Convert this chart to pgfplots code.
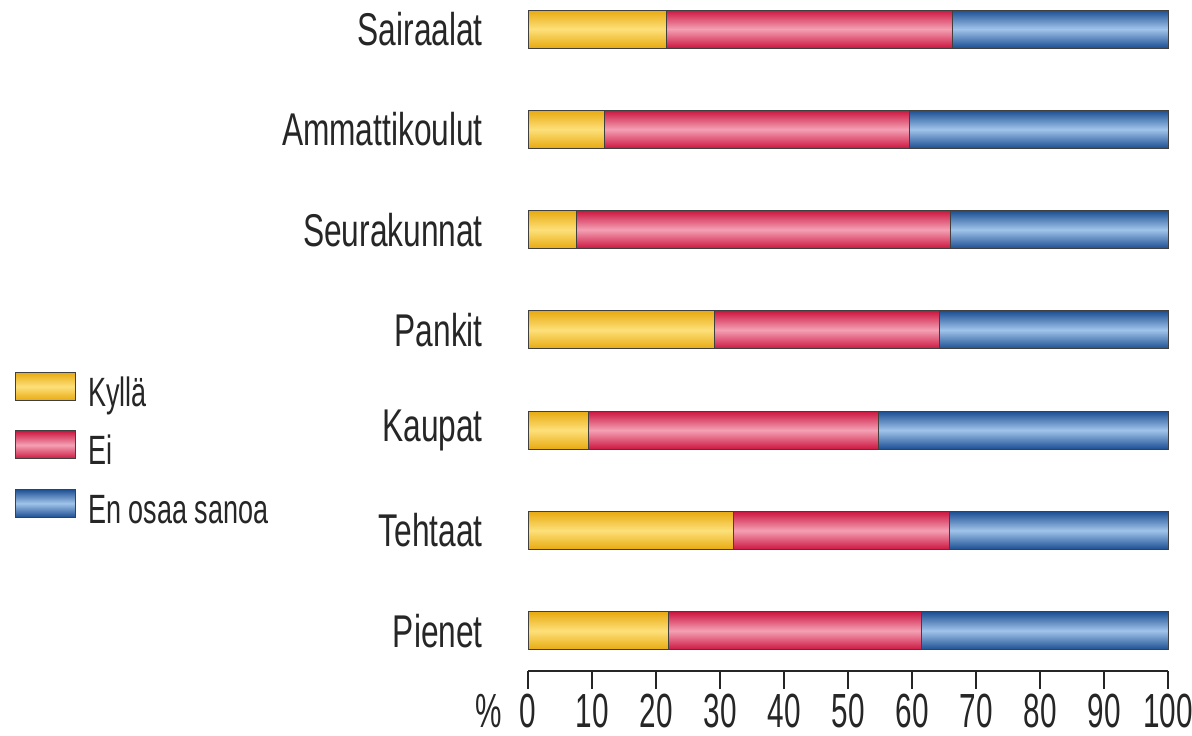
\documentclass[border=0pt]{standalone}
\usepackage{pgfplots}
\pgfplotsset{compat=1.18}
\usepackage{fontspec}
\setmainfont{Liberation Sans}[FakeStretch=0.66]
\newfontfamily\labfont{Liberation Sans}[FakeStretch=0.69]
\newfontfamily\tickfont{Liberation Sans}[FakeStretch=0.62]
\definecolor{yEdge}{HTML}{E8AA10}
\definecolor{yMid}{HTML}{FDE07A}
\definecolor{rEdge}{HTML}{CC1640}
\definecolor{rMid}{HTML}{F4A0B4}
\definecolor{bEdge}{HTML}{1C4E92}
\definecolor{bMid}{HTML}{A0C4EA}
\pgfplotsset{
  kbar/.style={draw=black!75, line width=0.5bp, top color=yEdge, bottom color=yEdge, middle color=yMid},
  ebar/.style={draw=black!75, line width=0.5bp, top color=rEdge, bottom color=rEdge, middle color=rMid},
  obar/.style={draw=black!75, line width=0.5bp, top color=bEdge, bottom color=bEdge, middle color=bMid},
}
\begin{document}
\begin{tikzpicture}
\begin{axis}[
  name=ax,
  scale only axis,
  width=320.5bp, height=336bp,
  xbar, bar shift=0pt,
  bar width=19bp,
  clip=false,
  xmin=0, xmax=100,
  ymin=-0.4, ymax=6.29,
  axis x line*=bottom,
  axis y line*=left,
  x axis line style={-, line width=0.8bp, black!85},
  y axis line style={draw=none},
  xtick={0,10,...,100},
  xtick align=outside,
  ytick align=inside,
  major tick length=9bp,
  xtick style={line width=0.8bp, black!85},
  ytick={0,...,6},
  yticklabels={Pienet,Tehtaat,Kaupat,Pankit,Seurakunnat,Ammattikoulut,Sairaalat},
  ytick style={draw=none},
  yticklabel style={inner sep=0pt, xshift=-22.5bp, font=\labfont\fontsize{23bp}{28bp}\selectfont},
  xticklabel style={inner sep=2.5bp, font=\tickfont\fontsize{24bp}{28bp}\selectfont},
  tick label style={black!85},
  /pgf/number format/assume math mode=true,
  legend cell align=left,
  legend style={at={(-0.802,0.446)}, anchor=north west, draw=none, fill=none,
    inner sep=0pt, row sep=6bp, column sep=4bp,
    font=\fontsize{20.5bp}{25bp}\selectfont,
    nodes={inner sep=2bp, text height=14bp, text depth=4bp, black!85}},
  legend image code/.code={\path[#1] (0bp,-2bp) rectangle (30bp,12bp);},
]
\addlegendimage{kbar}\addlegendentry{Kyllä}
\addlegendimage{ebar}\addlegendentry{Ei}
\addlegendimage{obar}\addlegendentry{En osaa sanoa}
% category 0: Pienet
\addplot[obar, forget plot] coordinates {(100,0)};
\addplot[ebar, forget plot] coordinates {(61.5,0)};
\addplot[kbar, forget plot] coordinates {(22.0,0)};
% category 1: Tehtaat
\addplot[obar, forget plot] coordinates {(100,1)};
\addplot[ebar, forget plot] coordinates {(65.8,1)};
\addplot[kbar, forget plot] coordinates {(32.1,1)};
% category 2: Kaupat
\addplot[obar, forget plot] coordinates {(100,2)};
\addplot[ebar, forget plot] coordinates {(54.8,2)};
\addplot[kbar, forget plot] coordinates {(9.5,2)};
% category 3: Pankit
\addplot[obar, forget plot] coordinates {(100,3)};
\addplot[ebar, forget plot] coordinates {(64.3,3)};
\addplot[kbar, forget plot] coordinates {(29.2,3)};
% category 4: Seurakunnat
\addplot[obar, forget plot] coordinates {(100,4)};
\addplot[ebar, forget plot] coordinates {(66.0,4)};
\addplot[kbar, forget plot] coordinates {(7.6,4)};
% category 5: Ammattikoulut
\addplot[obar, forget plot] coordinates {(100,5)};
\addplot[ebar, forget plot] coordinates {(59.6,5)};
\addplot[kbar, forget plot] coordinates {(11.9,5)};
% category 6: Sairaalat
\addplot[obar, forget plot] coordinates {(100,6)};
\addplot[ebar, forget plot] coordinates {(66.3,6)};
\addplot[kbar, forget plot] coordinates {(21.7,6)};
\node[anchor=north, inner sep=2.5bp, font=\tickfont\fontsize{24bp}{28bp}\selectfont, text=black!85]
  at ([xshift=-19.5bp, yshift=-9bp]rel axis cs:0,0) {\%};
\end{axis}
\pgfresetboundingbox
\path ([shift={(-264.5bp,-32.5bp)}]ax.south west) rectangle ([shift={(332.5bp,336bp)}]ax.south west);
\end{tikzpicture}
\end{document}
